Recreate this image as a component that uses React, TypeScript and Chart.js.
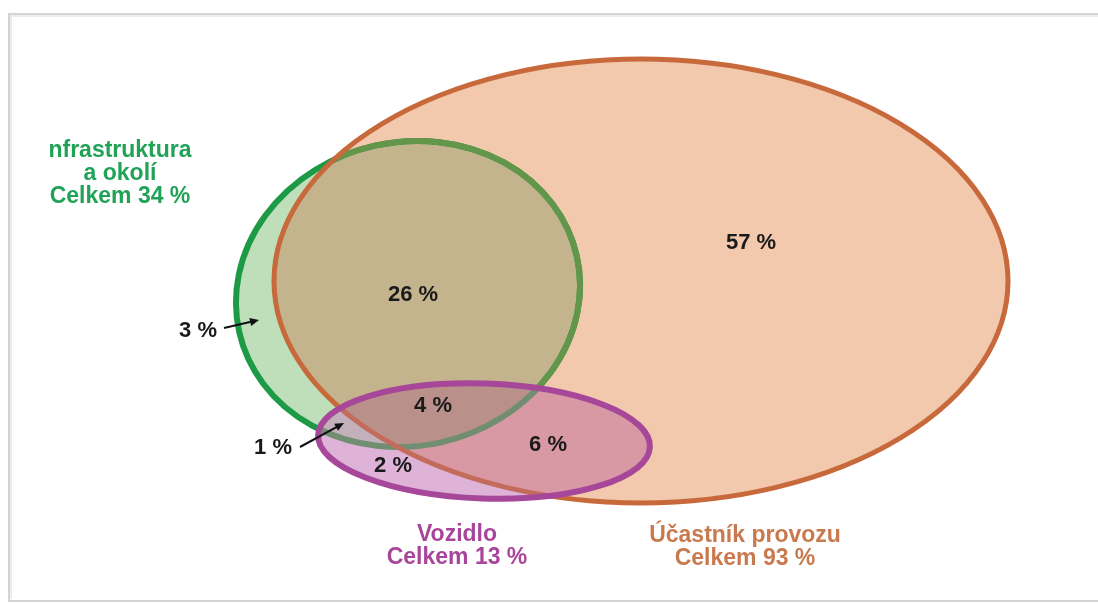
import React, { useEffect, useRef } from "react";
import { Chart, registerables } from "chart.js";

Chart.register(...registerables);

// ---------- data ----------
const regionNames = ["Ú only", "I∩Ú", "I only", "I∩V∩Ú", "I∩V", "V only", "V∩Ú"];
const regionValues = [57, 26, 3, 4, 1, 2, 6];
const setNames = [["nfrastruktura", "a okolí"], ["Vozidlo"], ["Účastník provozu"]];
const setTotals = [34, 13, 93];
const totalPrefix = "Celkem";

// ---------- layout (plot units = pixels of a 1098 x 604 field) ----------
const FIELD_W = 1098;
const FIELD_H = 604;
const regionLabelX = [751, 413, 198, 433, 273, 393, 548];
const regionLabelY = [243, 295, 331, 406, 448, 466, 445];
const arrows = [
  { from: [224, 328], to: [259, 320] }, // 3 %
  { from: [300, 447], to: [344, 423] }, // 1 %
];
const titleX = [120, 457, 745];
const titleY = [151, 535, 536];
const titleLine = 23;

// ellipses: orange (participant), green (infrastructure), purple (vehicle)
const ellO = { cx: 641, cy: 281, rx: 367, ry: 222, rot: 0 };
const ellG = { cx: 408, cy: 294, rx: 173, ry: 152, rot: -0.22 };
const ellP = { cx: 484, cy: 441, rx: 166, ry: 57.5, rot: 0.035 };

const COL = {
  oFill: "#f2c9ac",
  gFill: "#bfdfbb",
  goFill: "#c4b48d",
  pFill: "#dfb2d7",
  pgFill: "#c2b0bb",
  poFill: "#d898a4",
  pgoFill: "#b9908a",
  gStroke: "#1d9a45",
  gStrokeInO: "#63964a",
  gStrokeInP: "#728e72",
  oStroke: "#c8693b",
  oStrokeInP: "#c46c5c",
  pStroke: "#a6479a",
  gText: "#20a257",
  pText: "#a8459b",
  oText: "#c9794e",
};

const FONT = '"Liberation Sans", Arial, Helvetica, sans-serif';

const vennPlugin = {
  id: "venn",
  beforeDatasetsDraw(chart: any) {
    const { ctx } = chart;
    const xs = chart.scales.x;
    const ys = chart.scales.y;
    const px = (v: number) => xs.getPixelForValue(v);
    const py = (v: number) => ys.getPixelForValue(v);
    const path = (e: any) => {
      ctx.beginPath();
      ctx.ellipse(
        px(e.cx),
        py(e.cy),
        Math.abs(px(e.cx + e.rx) - px(e.cx)),
        Math.abs(py(e.cy + e.ry) - py(e.cy)),
        e.rot,
        0,
        Math.PI * 2
      );
    };
    const clipTo = (...es: any[]) => {
      es.forEach((e) => {
        path(e);
        ctx.clip();
      });
    };
    const fill = (e: any, c: string, ...clips: any[]) => {
      ctx.save();
      clipTo(...clips);
      path(e);
      ctx.fillStyle = c;
      ctx.fill();
      ctx.restore();
    };
    const stroke = (e: any, c: string, w: number, ...clips: any[]) => {
      ctx.save();
      clipTo(...clips);
      path(e);
      ctx.strokeStyle = c;
      ctx.lineWidth = w;
      ctx.stroke();
      ctx.restore();
    };

    // frame
    ctx.save();
    ctx.strokeStyle = "#d4d4d4";
    ctx.lineWidth = 2;
    ctx.beginPath();
    ctx.moveTo(px(FIELD_W), py(14));
    ctx.lineTo(px(9), py(14));
    ctx.lineTo(px(9), py(601));
    ctx.lineTo(px(FIELD_W), py(601));
    ctx.stroke();
    ctx.strokeStyle = "#ececec";
    ctx.lineWidth = 2;
    ctx.beginPath();
    ctx.moveTo(px(FIELD_W), py(16));
    ctx.lineTo(px(11), py(16));
    ctx.lineTo(px(11), py(599));
    ctx.stroke();
    ctx.restore();

    fill(ellO, COL.oFill);
    fill(ellG, COL.gFill);
    fill(ellG, COL.goFill, ellO);
    stroke(ellG, COL.gStroke, 6);
    stroke(ellG, COL.gStrokeInO, 6, ellO);
    stroke(ellO, COL.oStroke, 5);

    fill(ellP, COL.pFill);
    fill(ellP, COL.pgFill, ellG);
    fill(ellP, COL.poFill, ellO);
    fill(ellP, COL.pgoFill, ellO, ellG);
    stroke(ellG, COL.gStrokeInP, 6, ellP);
    stroke(ellO, COL.oStrokeInP, 5, ellP);
    stroke(ellP, COL.pStroke, 6);

    // arrows
    ctx.save();
    ctx.strokeStyle = "#111";
    ctx.fillStyle = "#111";
    ctx.lineWidth = 2;
    arrows.forEach((a) => {
      const x1 = px(a.from[0]), y1 = py(a.from[1]);
      const x2 = px(a.to[0]), y2 = py(a.to[1]);
      const ang = Math.atan2(y2 - y1, x2 - x1);
      ctx.beginPath();
      ctx.moveTo(x1, y1);
      ctx.lineTo(x2 - 6 * Math.cos(ang), y2 - 6 * Math.sin(ang));
      ctx.stroke();
      ctx.beginPath();
      ctx.moveTo(x2, y2);
      ctx.lineTo(x2 - 9 * Math.cos(ang) + 4 * Math.sin(ang), y2 - 9 * Math.sin(ang) - 4 * Math.cos(ang));
      ctx.lineTo(x2 - 9 * Math.cos(ang) - 4 * Math.sin(ang), y2 - 9 * Math.sin(ang) + 4 * Math.cos(ang));
      ctx.closePath();
      ctx.fill();
    });
    ctx.restore();
  },
  afterDatasetsDraw(chart: any) {
    const { ctx } = chart;
    const xs = chart.scales.x;
    const ys = chart.scales.y;
    const meta = chart.getDatasetMeta(0);
    ctx.save();
    ctx.textAlign = "center";
    ctx.textBaseline = "middle";
    ctx.fillStyle = "#1a1a1a";
    ctx.font = `bold 22px ${FONT}`;
    meta.data.forEach((pt: any, i: number) => {
      ctx.fillText(`${regionValues[i]} %`, pt.x, pt.y);
    });
    const tcol = [COL.gText, COL.pText, COL.oText];
    ctx.font = `bold 23px ${FONT}`;
    setNames.forEach((lines, i) => {
      const all = [...lines, `${totalPrefix} ${setTotals[i]} %`];
      ctx.fillStyle = tcol[i];
      all.forEach((t, j) => {
        ctx.fillText(t, xs.getPixelForValue(titleX[i]), ys.getPixelForValue(titleY[i] + j * titleLine));
      });
    });
    ctx.restore();
  },
};

export default function App() {
  const ref = useRef<HTMLCanvasElement | null>(null);
  useEffect(() => {
    document.body.style.margin = "0";
    if (!ref.current) return;
    const chart = new Chart(ref.current, {
      type: "scatter",
      data: {
        datasets: [
          {
            label: "regions",
            data: regionValues.map((v, i) => ({ x: regionLabelX[i], y: regionLabelY[i], v, name: regionNames[i] })) as any,
            pointRadius: 0,
            pointHoverRadius: 0,
          },
        ],
      },
      options: {
        animation: false,
        responsive: false,
        layout: { padding: 0 },
        plugins: { legend: { display: false }, tooltip: { enabled: false } },
        scales: {
          x: { type: "linear", min: 0, max: FIELD_W, display: false },
          y: { type: "linear", min: 0, max: FIELD_H, reverse: true, display: false },
        },
      },
      plugins: [vennPlugin],
    });
    return () => chart.destroy();
  }, []);
  return (
    <div style={{ width: FIELD_W, height: FIELD_H, background: "#fff" }}>
      <canvas ref={ref} width={FIELD_W} height={FIELD_H} />
    </div>
  );
}
